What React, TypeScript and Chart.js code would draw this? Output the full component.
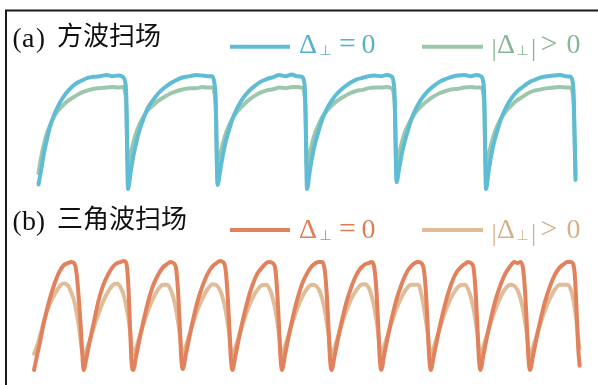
import { useEffect, useRef } from "react";
import { Chart, registerables } from "chart.js";

Chart.register(...registerables);

// ---------- data ----------
// square-wave sweep: phase grid inside one period, 6 periods
const SQ_PHASE = [0, 0.03, 0.06, 0.09, 0.13, 0.17, 0.22, 0.28, 0.34, 0.41, 0.48, 0.55, 0.62, 0.69, 0.76, 0.83, 0.89, 0.94, 0.965, 0.98];
const SQ_CYCLES = 6;
const sqBlue = [
  0.04, 0.17, 0.31, 0.42, 0.55, 0.64, 0.73, 0.81, 0.87, 0.92, 0.95, 0.975, 0.985, 0.99, 1.0, 0.99, 0.995, 0.985, 0.95, 0.83,
  0.0, 0.15, 0.29, 0.4, 0.52, 0.61, 0.71, 0.78, 0.84, 0.89, 0.93, 0.96, 0.98, 0.99, 1.0, 0.995, 0.99, 0.99, 0.93, 0.78,
  0.035, 0.16, 0.3, 0.41, 0.52, 0.62, 0.71, 0.79, 0.85, 0.9, 0.94, 0.965, 0.98, 1.0, 0.99, 1.005, 0.99, 0.985, 0.95, 0.82,
  0.0, 0.15, 0.29, 0.4, 0.51, 0.61, 0.7, 0.78, 0.84, 0.89, 0.93, 0.96, 0.975, 0.99, 0.995, 0.99, 1.0, 0.99, 0.95, 0.8,
  0.06, 0.18, 0.31, 0.41, 0.52, 0.62, 0.71, 0.79, 0.85, 0.9, 0.94, 0.965, 0.985, 0.995, 1.0, 0.99, 1.0, 0.99, 0.955, 0.83,
  0.0, 0.16, 0.3, 0.41, 0.52, 0.62, 0.71, 0.79, 0.85, 0.895, 0.935, 0.96, 0.98, 0.99, 0.995, 1.0, 0.99, 0.985, 0.95, 0.82,
  0.08,
];
const sqGreen = [
  0.14, 0.28, 0.39, 0.48, 0.56, 0.63, 0.69, 0.74, 0.78, 0.815, 0.845, 0.865, 0.88, 0.885, 0.89, 0.895, 0.89, 0.895, 0.86, 0.75,
  0.18, 0.31, 0.41, 0.49, 0.57, 0.63, 0.69, 0.735, 0.775, 0.81, 0.84, 0.86, 0.875, 0.885, 0.885, 0.895, 0.89, 0.89, 0.85, 0.72,
  0.17, 0.3, 0.4, 0.48, 0.56, 0.62, 0.68, 0.73, 0.775, 0.815, 0.845, 0.865, 0.875, 0.89, 0.885, 0.895, 0.895, 0.89, 0.86, 0.74,
  0.18, 0.31, 0.41, 0.49, 0.565, 0.63, 0.685, 0.735, 0.775, 0.81, 0.84, 0.86, 0.87, 0.885, 0.89, 0.89, 0.895, 0.885, 0.855, 0.73,
  0.19, 0.31, 0.41, 0.49, 0.56, 0.62, 0.68, 0.73, 0.77, 0.81, 0.84, 0.86, 0.875, 0.88, 0.89, 0.895, 0.89, 0.89, 0.86, 0.74,
  0.17, 0.3, 0.4, 0.48, 0.56, 0.62, 0.68, 0.73, 0.775, 0.81, 0.845, 0.865, 0.875, 0.885, 0.89, 0.895, 0.89, 0.89, 0.855, 0.73,
  0.12,
];

// triangle-wave sweep: phase grid inside one period, 11 periods
const TRI_PHASE = [0, 0.06, 0.13, 0.21, 0.3, 0.4, 0.5, 0.6, 0.68, 0.75, 0.81, 0.86, 0.9, 0.94, 0.97];
const TRI_CYCLES = 11;
const triDark = [
  0.0, 0.13, 0.28, 0.46, 0.63, 0.78, 0.9, 0.97, 0.99, 1.0, 0.99, 0.89, 0.68, 0.42, 0.18,
  0.0, 0.12, 0.28, 0.45, 0.64, 0.79, 0.89, 0.96, 0.99, 1.0, 1.01, 0.99, 0.8, 0.36, 0.05,
  0.0, 0.13, 0.29, 0.46, 0.63, 0.78, 0.88, 0.95, 0.98, 1.0, 0.99, 0.95, 0.76, 0.4, 0.1,
  0.01, 0.14, 0.3, 0.47, 0.64, 0.78, 0.89, 0.96, 0.99, 1.01, 1.0, 0.94, 0.72, 0.38, 0.1,
  0.0, 0.13, 0.29, 0.46, 0.63, 0.78, 0.89, 0.95, 0.99, 1.0, 0.99, 0.95, 0.75, 0.4, 0.11,
  0.0, 0.14, 0.3, 0.47, 0.64, 0.79, 0.89, 0.96, 0.99, 1.0, 1.0, 0.93, 0.72, 0.37, 0.09,
  0.0, 0.13, 0.29, 0.46, 0.63, 0.77, 0.88, 0.95, 0.98, 0.99, 1.0, 0.95, 0.76, 0.41, 0.11,
  0.0, 0.14, 0.3, 0.47, 0.64, 0.78, 0.89, 0.96, 0.99, 1.0, 0.99, 0.93, 0.73, 0.38, 0.1,
  0.0, 0.13, 0.29, 0.46, 0.63, 0.78, 0.89, 0.95, 0.98, 1.0, 0.99, 0.95, 0.75, 0.4, 0.1,
  0.0, 0.14, 0.3, 0.47, 0.64, 0.78, 0.89, 0.96, 1.0, 0.99, 1.0, 0.94, 0.73, 0.38, 0.1,
  0.0, 0.13, 0.29, 0.46, 0.63, 0.77, 0.88, 0.95, 0.98, 1.0, 1.0, 0.99, 0.9, 0.55, 0.22,
  0.04,
];
const triLight = [
  0.15, 0.22, 0.33, 0.47, 0.59, 0.685, 0.765, 0.8, 0.785, 0.72, 0.64, 0.53, 0.42, 0.28, 0.17,
  0.13, 0.19, 0.28, 0.4, 0.52, 0.64, 0.73, 0.79, 0.8, 0.76, 0.69, 0.59, 0.49, 0.35, 0.21,
  0.14, 0.21, 0.31, 0.43, 0.55, 0.66, 0.745, 0.79, 0.79, 0.75, 0.67, 0.57, 0.46, 0.33, 0.2,
  0.14, 0.22, 0.32, 0.44, 0.56, 0.665, 0.75, 0.795, 0.785, 0.74, 0.66, 0.56, 0.45, 0.32, 0.19,
  0.14, 0.21, 0.31, 0.43, 0.55, 0.66, 0.74, 0.785, 0.79, 0.75, 0.67, 0.57, 0.46, 0.33, 0.2,
  0.14, 0.22, 0.32, 0.44, 0.56, 0.67, 0.75, 0.79, 0.78, 0.74, 0.66, 0.56, 0.45, 0.32, 0.19,
  0.14, 0.21, 0.31, 0.43, 0.55, 0.66, 0.74, 0.79, 0.795, 0.76, 0.68, 0.58, 0.47, 0.34, 0.2,
  0.14, 0.22, 0.32, 0.44, 0.56, 0.665, 0.745, 0.79, 0.79, 0.79, 0.7, 0.58, 0.46, 0.33, 0.2,
  0.14, 0.21, 0.31, 0.43, 0.55, 0.66, 0.74, 0.785, 0.79, 0.75, 0.67, 0.57, 0.46, 0.33, 0.2,
  0.14, 0.22, 0.32, 0.44, 0.56, 0.67, 0.75, 0.79, 0.78, 0.74, 0.66, 0.56, 0.45, 0.32, 0.19,
  0.14, 0.21, 0.31, 0.43, 0.55, 0.66, 0.745, 0.79, 0.79, 0.79, 0.76, 0.68, 0.58, 0.44, 0.3,
  0.2,
];

const TITLE_A = ["(", "a", ")", "方波扫场"];
const TITLE_B = ["(", "b", ")", "三角波扫场"];
const LEGEND_EQ = ["Δ", "⊥", "=", "0"];
const LEGEND_GT = ["|", "Δ", "⊥", "|", ">", "0"];

// ---------- styles ----------
const BLUE = "#5ebcd5";
const GREEN = "#9dc7aa";
const ORANGE = "#e2825c";
const TAN = "#e0bd98";
const BLUE_T = "#54b2cb";
const GREEN_T = "#88b695";
const ORANGE_T = "#de7d57";
const TAN_T = "#d6b18a";

function buildTimes(phase: number[], cycles: number) {
  const t: number[] = [];
  for (let k = 0; k < cycles; k++) for (const p of phase) t.push(k + p);
  t.push(cycles);
  return t;
}

function pts(times: number[], vals: number[]) {
  return times.map((x, i) => ({ x, y: vals[i] }));
}

const SERIF = "'Liberation Serif', 'Times New Roman', serif";
const CJK = "'Noto Sans CJK SC', sans-serif";

const decor = {
  id: "decor",
  afterDraw(chart: any) {
    const ctx = chart.ctx as CanvasRenderingContext2D;
    ctx.save();
    // frame
    ctx.strokeStyle = "#1a1a1a";
    ctx.lineWidth = 2;
    ctx.beginPath();
    ctx.moveTo(6, 385);
    ctx.lineTo(6, 10.5);
    ctx.lineTo(598, 10.5);
    ctx.stroke();

    ctx.textBaseline = "alphabetic";
    const draw = (s: string, x: number, y: number, font: string, color: string) => {
      ctx.font = font;
      ctx.fillStyle = color;
      ctx.fillText(s, x, y);
    };
    const title = (parts: string[], base: number) => {
      draw(parts[0], 12.5, base, `27px ${SERIF}`, "#111");
      draw(parts[1], 22, base, `28px ${SERIF}`, "#111");
      draw(parts[2], 36, base, `27px ${SERIF}`, "#111");
      draw(parts[3], 57, base - 1.5, `26px ${CJK}`, "#111");
    };
    title(TITLE_A, 46.5);
    title(TITLE_B, 229.5);

    const legend = (yLine: number, base: number, c1: string, t1: string, c2: string, t2: string) => {
      ctx.lineWidth = 4;
      ctx.lineCap = "butt";
      ctx.strokeStyle = c1;
      ctx.beginPath();
      ctx.moveTo(230, yLine);
      ctx.lineTo(290, yLine);
      ctx.stroke();
      ctx.strokeStyle = c2;
      ctx.beginPath();
      ctx.moveTo(422, yLine);
      ctx.lineTo(483, yLine);
      ctx.stroke();
      draw(LEGEND_EQ[0], 299, base, `28px ${SERIF}`, t1);
      draw(LEGEND_EQ[1], 319.5, base + 2, `14px 'DejaVu Sans'`, t1);
      draw(LEGEND_EQ[2], 339, base, `30px ${SERIF}`, t1);
      draw(LEGEND_EQ[3], 361.5, base, `28px ${SERIF}`, t1);
      draw(LEGEND_GT[0], 491.5, base + 3, `26px ${SERIF}`, t2);
      draw(LEGEND_GT[1], 497, base, `28px ${SERIF}`, t2);
      draw(LEGEND_GT[2], 516.5, base + 2, `14px 'DejaVu Sans'`, t2);
      draw(LEGEND_GT[3], 531, base + 3, `26px ${SERIF}`, t2);
      draw(LEGEND_GT[4], 540.5, base, `30px ${SERIF}`, t2);
      draw(LEGEND_GT[5], 566.5, base, `28px ${SERIF}`, t2);
    };
    legend(46.7, 53.3, BLUE, BLUE_T, GREEN, GREEN_T);
    legend(230, 237.5, ORANGE, ORANGE_T, TAN, TAN_T);
    ctx.restore();
  },
};

export default function App() {
  const ref = useRef<HTMLCanvasElement | null>(null);
  useEffect(() => {
    if (!ref.current) return;
    const sqT = buildTimes(SQ_PHASE, SQ_CYCLES);
    const triT = buildTimes(TRI_PHASE, TRI_CYCLES);
    const common = {
      pointRadius: 0,
      fill: false,
      borderWidth: 4,
      cubicInterpolationMode: "monotone" as const,
      borderJoinStyle: "round" as const,
      borderCapStyle: "round" as const,
    };
    const chart = new Chart(ref.current, {
      type: "line",
      data: {
        datasets: [
          { ...common, label: "Δ⊥=0 (a)", data: pts(sqT, sqBlue), borderColor: BLUE, xAxisID: "xA", yAxisID: "yA", order: 1 },
          { ...common, label: "|Δ⊥|>0 (a)", data: pts(sqT, sqGreen), borderColor: GREEN, xAxisID: "xA", yAxisID: "yA", order: 2 },
          { ...common, label: "Δ⊥=0 (b)", data: pts(triT, triDark), borderColor: ORANGE, xAxisID: "xB", yAxisID: "yB", order: 3 },
          { ...common, label: "|Δ⊥|>0 (b)", data: pts(triT, triLight), borderColor: TAN, xAxisID: "xB", yAxisID: "yB", order: 4 },
        ],
      },
      options: {
        animation: false,
        responsive: false,
        events: [],
        layout: { padding: 0 },
        plugins: { legend: { display: false }, tooltip: { enabled: false } },
        scales: {
          xA: { type: "linear", display: false, min: -0.4302, max: 6.2514 },
          xB: { type: "linear", display: false, min: -0.6855, max: 11.371 },
          yA: { type: "linear", display: false, min: -1.719, max: 1.658 },
          yB: { type: "linear", display: false, min: -0.1389, max: 3.426 },
        },
      },
      plugins: [decor],
    });
    return () => chart.destroy();
  }, []);
  return (
    <div style={{ position: "fixed", left: 0, top: 0, width: 598, height: 385, background: "#fff" }}>
      <canvas ref={ref} width={598} height={385} style={{ display: "block" }} />
    </div>
  );
}
